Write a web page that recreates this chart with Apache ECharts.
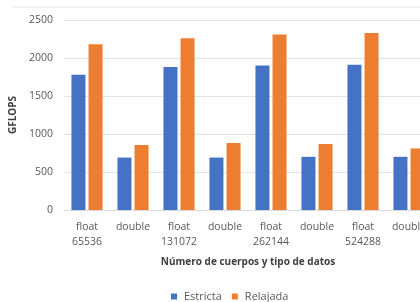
<!DOCTYPE html>
<html>
<head>
<meta charset="utf-8">
<script src="https://cdn.jsdelivr.net/npm/echarts@6/dist/echarts.min.js"></script>
<style>
  html, body { margin: 0; padding: 0; background: #fff; }
  #chart { width: 420px; height: 302px; }
</style>
</head>
<body>
<div id="chart"></div>
<script>
// categories (tipo de datos + número de cuerpos)
const categories = ["float\n65536", "double", "float\n131072", "double", "float\n262144", "double", "float\n524288", "double"];
const estricta = [1780, 690, 1880, 690, 1900, 700, 1910, 700];
const relajada = [2180, 855, 2260, 880, 2310, 870, 2330, 810];
const yTicks = { min: 0, max: 2500, interval: 500 };

const font = "'Open Sans', 'Liberation Sans', sans-serif";
const chart = echarts.init(document.getElementById("chart"));

chart.setOption({
  animation: false,
  textStyle: { fontFamily: font },
  // the source picture is cropped on the right, so the plot runs past the edge
  grid: { left: 64, width: 368, top: 20, bottom: 92, outerBoundsMode: "none", containLabel: false },
  legend: {
    top: 286,
    left: 166,
    itemWidth: 6,
    itemHeight: 6,
    itemGap: 10,
    icon: "rect",
    textStyle: { color: "#595959", fontSize: 11, fontFamily: font, padding: [0, 0, 0, 2] },
    data: ["Estricta", "Relajada"]
  },
  xAxis: {
    type: "category",
    data: categories,
    name: "Número de cuerpos y tipo de datos",
    nameLocation: "middle",
    nameGap: 47,
    nameTextStyle: { color: "#404040", fontSize: 10, fontWeight: "bold", fontFamily: font },
    axisLine: { lineStyle: { color: "#d9d9d9" } },
    axisTick: { show: false },
    axisLabel: { color: "#595959", fontSize: 10.5, lineHeight: 15, margin: 10, interval: 0 }
  },
  yAxis: {
    type: "value",
    min: yTicks.min,
    max: yTicks.max,
    interval: yTicks.interval,
    name: "GFLOPS",
    nameLocation: "middle",
    nameGap: 46,
    nameTextStyle: { color: "#404040", fontSize: 10, fontWeight: "bold", fontFamily: font },
    axisLine: { show: false },
    axisTick: { show: false },
    axisLabel: { color: "#595959", fontSize: 10.5, margin: 11, formatter: v => String(v) },
    splitLine: { lineStyle: { color: "#e3e3e3" } }
  },
  graphic: [{
    type: "line",
    shape: { x1: 12, y1: 7, x2: 420, y2: 7 },
    style: { stroke: "#e6e6e6", lineWidth: 1 }
  }],
  series: [
    {
      name: "Estricta",
      type: "bar",
      data: estricta,
      barWidth: 14,
      barGap: "22%",
      itemStyle: { color: "#4472c4" }
    },
    {
      name: "Relajada",
      type: "bar",
      data: relajada,
      barWidth: 14,
      itemStyle: { color: "#ed7d31" }
    }
  ]
});
</script>
</body>
</html>
